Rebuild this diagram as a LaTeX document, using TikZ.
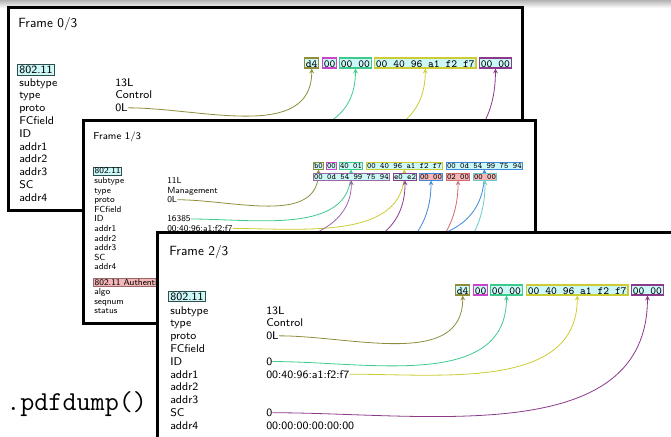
\documentclass[tikz,border=0pt]{standalone}
\definecolor{lyrbg}{HTML}{CCF8F8}
\definecolor{lyrframe}{HTML}{2F4F4F}
\definecolor{authbg}{HTML}{F4B6B6}
\definecolor{authframe}{HTML}{9A6A6A}
\definecolor{fldolive}{HTML}{8E8E3C}
\definecolor{fldmagenta}{HTML}{CC44CC}
\definecolor{fldgreen}{HTML}{3CCB8C}
\definecolor{fldyellow}{HTML}{CCCC33}
\definecolor{fldpurple}{HTML}{8B3A8B}
\definecolor{fldviolet}{HTML}{9966AA}
\definecolor{fldblue}{HTML}{4088D8}
\definecolor{fldred}{HTML}{D06A6A}
\definecolor{fldcyan}{HTML}{6ACACA}
\begin{document}
\begin{tikzpicture}
[x=0.75pt, y=-0.75pt, >=stealth,
 frm/.style={draw, line width=2.25pt, fill=white},
 bigttl/.style={anchor=base west, inner sep=0, font=\sffamily\fontsize{10}{12}\selectfont},
 smallttl/.style={anchor=base west, inner sep=0, font=\sffamily\fontsize{7.6}{9}\selectfont},
 bigfld/.style={anchor=base west, inner sep=0, font=\sffamily\fontsize{8.4}{10}\selectfont},
 smallfld/.style={anchor=base west, inner sep=0, font=\sffamily\fontsize{6.6}{8}\selectfont},
 biglyr/.style={anchor=west, draw=lyrframe, fill=lyrbg, line width=0.9pt, inner xsep=1.4pt, inner ysep=1pt, font=\sffamily\fontsize{8.4}{10}\selectfont},
 smalllyr/.style={anchor=west, draw=lyrframe, fill=lyrbg, line width=0.7pt, inner xsep=0.9pt, inner ysep=0.7pt, font=\sffamily\fontsize{6.6}{8}\selectfont},
 bighex/.style={anchor=west, fill=lyrbg, line width=0.9pt, inner xsep=1pt, inner ysep=0.75pt, text height=6pt, text depth=0pt, font=\ttfamily\fontsize{8.2}{10}\selectfont},
 smallhex/.style={anchor=west, fill=lyrbg, line width=0.6pt, inner xsep=0.5pt, inner ysep=0.4pt, text height=4.5pt, text depth=0pt, font=\ttfamily\fontsize{6.2}{8}\selectfont},
 lnk/.style={->, line width=0.6pt}]
\clip (0,0) rectangle (671,436);
\fill[white] (0,0) rectangle (671,436);
\shade[top color=black!30, bottom color=white] (0,0) rectangle (671,8);

% frame 0
\draw[frm] (8,7.5) rectangle (522,210);
\node[bigttl] (f0title) at (18,27.5) {Frame 0/3};
\node[biglyr] (f0lyr) at (17,70) {802.11};
\node[bigfld] (f0lsub) at (19,86) {subtype};
\node[bigfld] (f0ltype) at (19,98.8) {type};
\node[bigfld] (f0lproto) at (19,111.6) {proto};
\node[bigfld] (f0lfc) at (19,124.4) {FCfield};
\node[bigfld] (f0lid) at (19,137.2) {ID};
\node[bigfld] (f0laddr1) at (19,150) {addr1};
\node[bigfld] (f0laddr2) at (19,162.8) {addr2};
\node[bigfld] (f0laddr3) at (19,175.6) {addr3};
\node[bigfld] (f0lsc) at (19,188.4) {SC};
\node[bigfld] (f0laddr4) at (19,201.2) {addr4};
\node[bigfld] (f0sub) at (115,86) {13L};
\node[bigfld] (f0type) at (115,98.8) {Control};
\node[bigfld] (f0proto) at (115,111.6) {0L};
\coordinate (f0id) at (122,134);
\coordinate (f0addr1) at (192,147);
\coordinate (f0sc) at (122,185);
\node[bighex, draw=fldolive] (f0hsub) at (304,63) {d4};
\node[bighex, draw=fldmagenta] (f0hfc) at (322,63) {00};
\node[bighex, draw=fldgreen] (f0hid) at (339,63) {00 00};
\node[bighex, draw=fldyellow] (f0haddr1) at (374,63) {00 40 96 a1 f2 f7};
\node[bighex, draw=fldpurple] (f0hsc) at (479,63) {00 00};
\draw[lnk, fldolive] (f0proto.east) to[out=0, in=-90] (f0hsub.south);
\draw[lnk, fldgreen] (f0id) to[out=0, in=-90] (f0hid.south);
\draw[lnk, fldyellow] (f0addr1) to[out=0, in=-90] (f0haddr1.south);
\draw[lnk, fldpurple] (f0sc) to[out=0, in=-90] (f0hsc.south);

% frame 1
\draw[frm] (83.8,120.5) rectangle (535,323.8);
\node[smallttl] (f1title) at (93,139) {Frame 1/3};
\node[smalllyr] (f1lyr) at (93,171) {802.11};
\node[smallfld] (f1lsub) at (94,183.5) {subtype};
\node[smallfld] (f1ltype) at (94,193.1) {type};
\node[smallfld] (f1lproto) at (94,202.7) {proto};
\node[smallfld] (f1lfc) at (94,212.3) {FCfield};
\node[smallfld] (f1lid) at (94,221.9) {ID};
\node[smallfld] (f1laddr1) at (94,231.5) {addr1};
\node[smallfld] (f1laddr2) at (94,241.1) {addr2};
\node[smallfld] (f1laddr3) at (94,250.7) {addr3};
\node[smallfld] (f1lsc) at (94,260.3) {SC};
\node[smallfld] (f1laddr4) at (94,269.9) {addr4};
\node[smalllyr, fill=authbg, draw=authframe] (f1auth) at (93,282.5) {802.11 Authentication};
\node[smallfld] (f1lalgo) at (94,294.5) {algo};
\node[smallfld] (f1lseq) at (94,304) {seqnum};
\node[smallfld] (f1lstat) at (94,313.5) {status};
\node[smallfld] (f1sub) at (167,183.5) {11L};
\node[smallfld] (f1type) at (167,193.1) {Management};
\node[smallfld] (f1proto) at (167,202.7) {0L};
\node[smallfld] (f1id) at (167,221.9) {16385};
\node[smallfld] (f1addr1) at (167,231.5) {00:40:96:a1:f2:f7};
\coordinate (f1addr2) at (227,238.5);
\coordinate (f1addr3) at (227,248);
\coordinate (f1sc) at (172,257.5);
\coordinate (f1algo) at (175,292);
\coordinate (f1seq) at (175,301.5);
\coordinate (f1stat) at (175,311);
\node[smallhex, draw=fldolive] (f1hsub) at (313,165.5) {b0};
\node[smallhex, draw=fldmagenta] (f1hfc) at (326,165.5) {00};
\node[smallhex, draw=fldgreen] (f1hid) at (339,165.5) {40 01};
\node[smallhex, draw=fldyellow] (f1haddr1) at (366,165.5) {00 40 96 a1 f2 f7};
\node[smallhex, draw=fldblue] (f1haddr2) at (446,165.5) {00 0d 54 99 75 94};
\draw[lnk, fldolive] (f1proto.east) to[out=0, in=-90] (f1hsub.south);
\draw[lnk, fldgreen] (f1id.east) to[out=0, in=-90] (f1hid.south);
\draw[lnk, fldyellow] (f1addr1.east) to[out=0, in=-90] (f1haddr1.south);
\draw[lnk, fldblue] (f1addr2) to[out=0, in=-90] (f1haddr2.south);
\node[smallhex, draw=fldviolet] (f1haddr3) at (313,176.5) {00 0d 54 99 75 94};
\node[smallhex, draw=fldpurple] (f1hsc) at (393,176.5) {e0 e2};
\node[smallhex, draw=fldblue, fill=authbg] (f1halgo) at (419,176.5) {00 00};
\node[smallhex, draw=fldred, fill=authbg] (f1hseq) at (446,176.5) {02 00};
\node[smallhex, draw=fldcyan, fill=authbg] (f1hstat) at (473,176.5) {00 00};
\draw[lnk, fldviolet] (f1addr3) to[out=0, in=-90] (f1haddr3.south);
\draw[lnk, fldpurple] (f1sc) to[out=0, in=-90] (f1hsc.south);
\draw[lnk, fldblue] (f1algo) to[out=0, in=-90] (f1halgo.south);
\draw[lnk, fldred] (f1seq) to[out=0, in=-90] (f1hseq.south);
\draw[lnk, fldcyan] (f1stat) to[out=0, in=-90] (f1hstat.south);

% frame 2
\draw[frm] (157.5,232.8) rectangle (700,470);
\node[bigttl] (f2title) at (169,255.5) {Frame 2/3};
\node[biglyr] (f2lyr) at (168,296.5) {802.11};
\node[bigfld] (f2lsub) at (170,314) {subtype};
\node[bigfld] (f2ltype) at (170,326.8) {type};
\node[bigfld] (f2lproto) at (170,339.6) {proto};
\node[bigfld] (f2lfc) at (170,352.4) {FCfield};
\node[bigfld] (f2lid) at (170,365.2) {ID};
\node[bigfld] (f2laddr1) at (170,378) {addr1};
\node[bigfld] (f2laddr2) at (170,390.8) {addr2};
\node[bigfld] (f2laddr3) at (170,403.6) {addr3};
\node[bigfld] (f2lsc) at (170,416.4) {SC};
\node[bigfld] (f2laddr4) at (170,429.2) {addr4};
\node[bigfld] (f2sub) at (266,314) {13L};
\node[bigfld] (f2type) at (266,326.8) {Control};
\node[bigfld] (f2proto) at (266,339.6) {0L};
\node[bigfld] (f2id) at (266,365.2) {0};
\node[bigfld] (f2addr1) at (266,378) {00:40:96:a1:f2:f7};
\node[bigfld] (f2sc) at (266,416.4) {0};
\node[bigfld] (f2addr4) at (266,429.2) {00:00:00:00:00:00};
\node[bighex, draw=fldolive] (f2hsub) at (455,290) {d4};
\node[bighex, draw=fldmagenta] (f2hfc) at (473,290) {00};
\node[bighex, draw=fldgreen] (f2hid) at (490,290) {00 00};
\node[bighex, draw=fldyellow] (f2haddr1) at (526,290) {00 40 96 a1 f2 f7};
\node[bighex, draw=fldpurple] (f2hsc) at (631,290) {00 00};
\draw[lnk, fldolive] (f2proto.east) to[out=0, in=-90] (f2hsub.south);
\draw[lnk, fldgreen] (f2id.east) to[out=0, in=-90] (f2hid.south);
\draw[lnk, fldyellow] (f2addr1.east) to[out=0, in=-90] (f2haddr1.south);
\draw[lnk, fldpurple] (f2sc.east) to[out=0, in=-90] (f2hsc.south);

\node[anchor=base west, inner sep=0, font=\ttfamily\fontsize{20.5}{24}\selectfont] (dump) at (6,410.5) {.pdfdump()};
\end{tikzpicture}
\end{document}
